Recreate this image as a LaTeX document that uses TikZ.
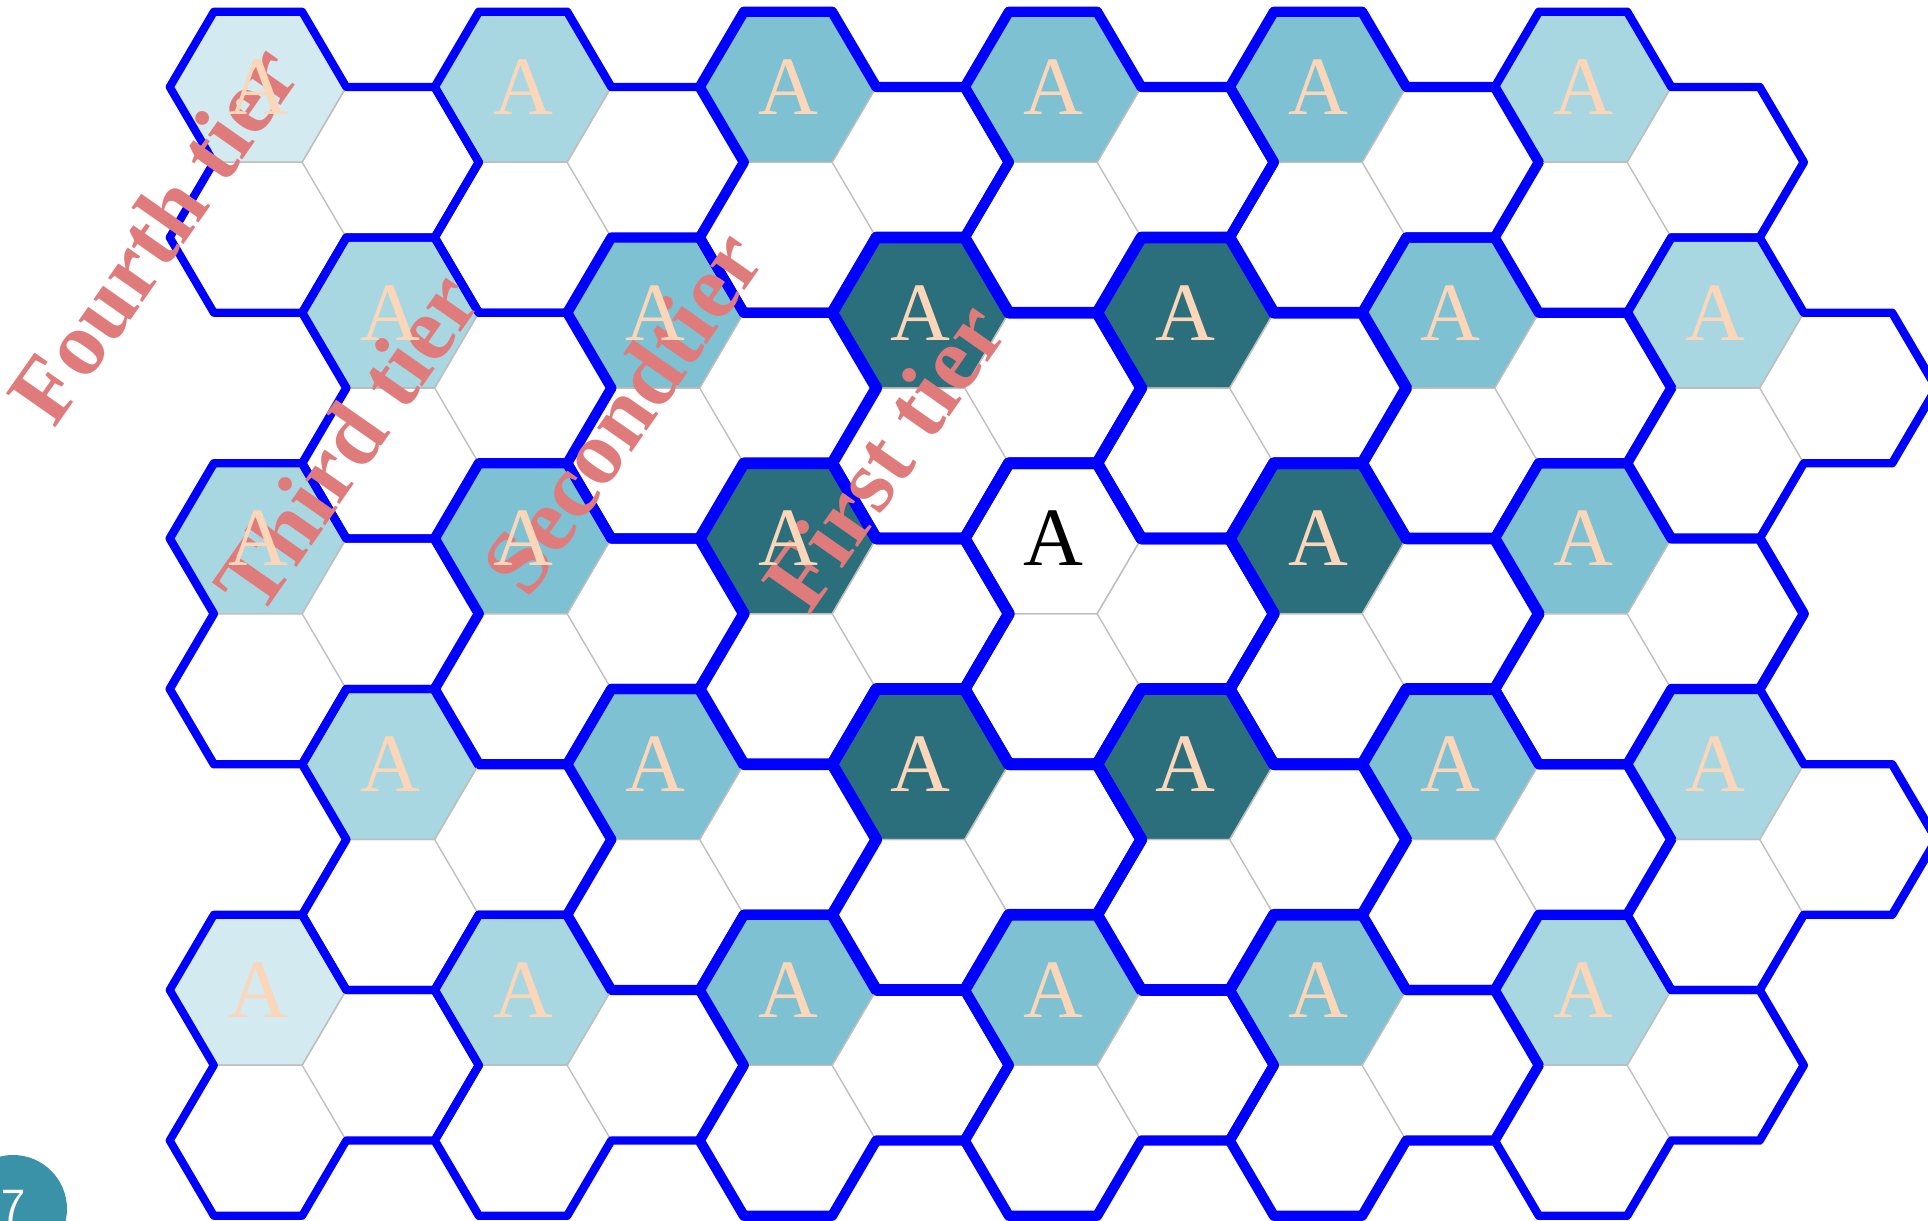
\documentclass[tikz,border=0pt]{standalone}
\usepackage{fontspec}
\setmainfont{Liberation Serif}
\usetikzlibrary{
    backgrounds
}
\definecolor{tierone}{HTML}{2B6E7C}
\definecolor{tiertwo}{HTML}{7DC1D3}
\definecolor{tierthree}{HTML}{A9D7E1}
\definecolor{tierfour}{HTML}{D3EAF0}
\definecolor{letterpeach}{HTML}{FBD6B8}
\definecolor{tiersalmon}{HTML}{E07B7B}
\definecolor{clusterblue}{HTML}{0000FF}
\definecolor{badgeteal}{HTML}{3A92A8}
\newcommand{\hexr}{0.883}
\newcommand{\hexh}{0.7525}
\newcommand{\colstep}{1.325}
\tikzset{
    cluster border/.style={
        draw=clusterblue,
        line width=2.3pt,
        line join=round
    },
    tierfour border/.style={cluster border},
    tierthree border/.style={cluster border, line width=2.4pt},
    tiertwo border/.style={cluster border, line width=2.9pt},
    tierone border/.style={cluster border, line width=3.3pt},
    white border/.style={cluster border, line width=3.3pt},
    inner edge/.style={
        draw=black!25,
        line width=0.4pt
    },
    cell fill/.style={
        draw=black!35,
        line width=0.3pt
    },
    cell letter/.style={
        font=\fontsize{23.6}{28}\selectfont,
        inner sep=0pt
    },
    tier label/.style={
        font=\bfseries\fontsize{26}{31}\selectfont,
        text=tiersalmon,
        rotate=55,
        inner sep=0pt
    }
}
\newcommand{\fillcell}[3]{%
    \filldraw[cell fill, fill=#3]
        ({#1-\hexr},#2) -- ({#1-\hexr/2},{#2+\hexh}) -- ({#1+\hexr/2},{#2+\hexh})
        -- ({#1+\hexr},#2) -- ({#1+\hexr/2},{#2-\hexh}) -- ({#1-\hexr/2},{#2-\hexh})
        -- cycle;
}
\newcommand{\drawcluster}[3]{%
    \draw[inner edge]
        ({#1-\hexr/2},{#2-\hexh}) -- ({#1+\hexr/2},{#2-\hexh}) -- ({#1+\hexr},#2)
        ({#1+\hexr/2},{#2-\hexh}) -- ({#1+\hexr},{#2-2*\hexh});
    \draw[#3 border]
        ({#1-\hexr},#2) -- ({#1-\hexr/2},{#2+\hexh}) -- ({#1+\hexr/2},{#2+\hexh})
        -- ({#1+\hexr},#2) -- ({#1+\colstep+\hexr/2},#2)
        -- ({#1+\colstep+\hexr},{#2-\hexh}) -- ({#1+\colstep+\hexr/2},{#2-2*\hexh})
        -- ({#1+\hexr},{#2-2*\hexh}) -- ({#1+\hexr/2},{#2-3*\hexh})
        -- ({#1-\hexr/2},{#2-3*\hexh}) -- ({#1-\hexr},{#2-2*\hexh})
        -- ({#1-\hexr/2},{#2-\hexh}) -- cycle;
}
\newcommand{\clusterlist}{%
    0/0/tierfour/letterpeach, 2/0/tierthree/letterpeach, 4/0/tiertwo/letterpeach,
    6/0/tiertwo/letterpeach, 8/0/tiertwo/letterpeach, 10/0/tierthree/letterpeach,
    1/1/tierthree/letterpeach, 3/1/tiertwo/letterpeach, 5/1/tierone/letterpeach,
    7/1/tierone/letterpeach, 9/1/tiertwo/letterpeach, 11/1/tierthree/letterpeach,
    0/2/tierthree/letterpeach, 2/2/tiertwo/letterpeach, 4/2/tierone/letterpeach,
    6/2/white/black, 8/2/tierone/letterpeach, 10/2/tiertwo/letterpeach,
    1/3/tierthree/letterpeach, 3/3/tiertwo/letterpeach, 5/3/tierone/letterpeach,
    7/3/tierone/letterpeach, 9/3/tiertwo/letterpeach, 11/3/tierthree/letterpeach,
    0/4/tierfour/letterpeach, 2/4/tierthree/letterpeach, 4/4/tiertwo/letterpeach,
    6/4/tiertwo/letterpeach, 8/4/tiertwo/letterpeach, 10/4/tierthree/letterpeach%
}

\begin{document}
\begin{tikzpicture}

    \useasboundingbox (0,0) rectangle (19.28,12.20);

    % Co-channel cells, shaded by tier.
    \foreach \i/\row/\tier/\ink in \clusterlist {
        \pgfmathsetmacro{\cx}{2.58+\colstep*\i}
        \pgfmathsetmacro{\cy}{11.33-3*\hexh*\row}
        \fillcell{\cx}{\cy}{\tier}
    }

    % Three-cell clusters.
    \foreach \i/\row/\tier/\ink in \clusterlist {
        \pgfmathsetmacro{\cx}{2.58+\colstep*\i}
        \pgfmathsetmacro{\cy}{11.33-3*\hexh*\row}
        \drawcluster{\cx}{\cy}{\tier}
    }

    % Tier labels.
    \node[tier label] (fourth) at (1.53,9.86) {Fourth tier};
    \node[tier label] (third) at (3.46,7.78) {Third tier};
    \node[tier label] (second) at (6.22,8.08) {Secondtier};
    \node[tier label] (first) at (8.84,7.64) {First tier};

    % Letters of the co-channel cells.
    \foreach \i/\row/\tier/\ink in \clusterlist {
        \pgfmathsetmacro{\cx}{2.58+\colstep*\i}
        \pgfmathsetmacro{\cy}{11.33-3*\hexh*\row}
        \node[cell letter, text=\ink] (cell-\i-\row) at (\cx,\cy) {A};
    }

    % Page badge.
    \node[circle, fill=badgeteal, minimum size=1.08cm, inner sep=0pt] (badge) at (0.13,0.11) {};
    \node[anchor=base west, inner sep=0pt, text=white, font=\sffamily\fontsize{14}{16}\selectfont]
        (pagenum) at (0.01,-0.02) {7};

\end{tikzpicture}
\end{document}
